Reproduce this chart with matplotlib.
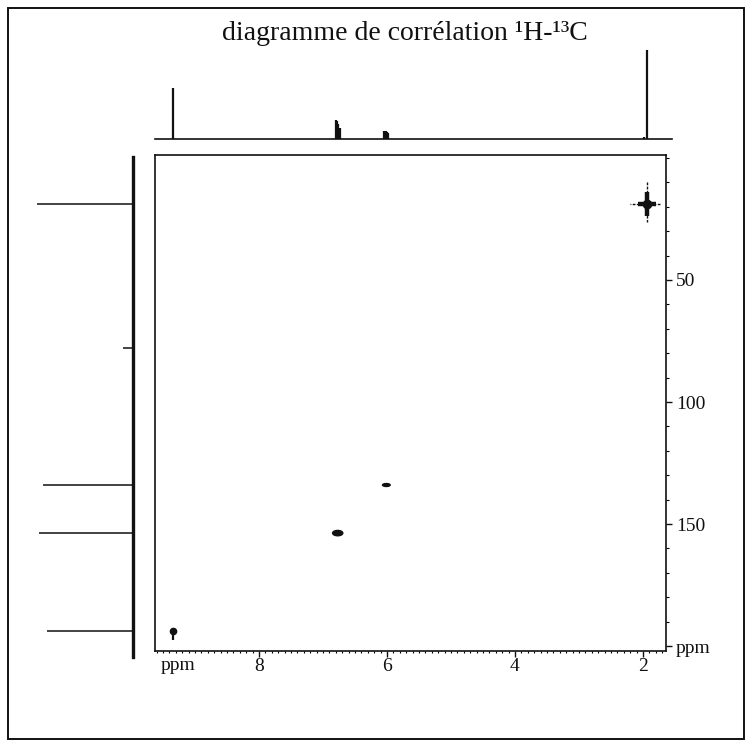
import numpy as np
import matplotlib.pyplot as plt
from matplotlib.patches import Ellipse, Rectangle
from matplotlib.ticker import FixedLocator, MultipleLocator

plt.rcParams['font.family'] = ['Liberation Serif', 'DejaVu Serif']

W, H = 752, 747
INK = '#111111'

# 1H projection: line positions (ppm) and heights
h1_ppm = [9.34, 6.80, 6.78, 6.76, 6.74, 6.04, 6.02, 6.00, 5.98, 1.99, 1.94]
h1_int = [51, 19, 18, 15, 11, 8, 8, 7, 6, 2, 89]

# 13C projection: line positions (ppm) and heights
c13_ppm = [18.8, 77.7, 134.0, 153.7, 194.0]
c13_int = [96, 10, 90, 94, 86]

# correlation peaks (1H ppm, 13C ppm)
cross_h = [9.34, 6.77, 6.01, 1.94]
cross_c = [194.0, 153.7, 134.0, 18.8]

x_ticks = [8, 6, 4, 2]
y_ticks = [50, 100, 150, 200]
y_labels = ['50', '100', '150', 'ppm']

h_lim = (9.625, 1.64)
c_lim = (202.0, -1.2)


def box(x0, y0, x1, y1):
    return [x0 / W, 1 - y1 / H, (x1 - x0) / W, (y1 - y0) / H]


fig = plt.figure(figsize=(W / 100, H / 100), dpi=100)
fig.patches.append(Rectangle((8 / W, 8 / H), (W - 16) / W, (H - 16) / H,
                             transform=fig.transFigure, fill=False,
                             lw=1.4, ec=INK))
fig.text(405 / W, 1 - 33 / H, 'diagramme de corrélation ¹H-¹³C',
         ha='center', va='center', fontsize=20, color=INK)

# 2D map
ax = fig.add_axes(box(155, 155, 666, 651))
ax.set_xlim(*h_lim)
ax.set_ylim(*c_lim)
for s in ax.spines.values():
    s.set_linewidth(1.2)
    s.set_color(INK)
ax.yaxis.tick_right()
ax.xaxis.set_major_locator(FixedLocator(x_ticks))
ax.set_xticklabels([str(t) for t in x_ticks])
ax.xaxis.set_minor_locator(MultipleLocator(0.1))
ax.yaxis.set_major_locator(FixedLocator(y_ticks))
ax.set_yticklabels(y_labels)
ax.yaxis.set_minor_locator(MultipleLocator(10))
ax.tick_params(axis='x', which='major', direction='out', length=4, width=1,
               pad=1, labelsize=14, colors=INK)
ax.tick_params(axis='x', which='minor', direction='out', length=1.5, width=0.8)
ax.tick_params(axis='y', which='major', direction='out', length=4, width=1,
               pad=3, labelsize=14, colors=INK)
ax.tick_params(axis='y', which='minor', direction='out', length=2.5, width=0.8)
ax.text(9.27, -0.013, 'ppm', transform=ax.get_xaxis_transform(),
        ha='center', va='top', fontsize=14, color=INK)

# CHO: dot with a short tail
ax.plot(cross_h[0], cross_c[0], 'o', ms=4.5, color=INK)
ax.vlines(cross_h[0], cross_c[0], cross_c[0] + 3.3, lw=1.6, color=INK)
# olefinic CH
ax.add_patch(Ellipse((cross_h[1], cross_c[1]), 0.16, 2.2, color=INK))
ax.add_patch(Ellipse((cross_h[2], cross_c[2]), 0.12, 1.2, color=INK))
# CH3: strong cross
h3, c3 = cross_h[3], cross_c[3]
ax.hlines(c3, h3 - 0.2, h3 + 0.27, lw=1.0, ls=(0, (2, 1)), color=INK)
ax.vlines(h3, c3 - 9, c3 + 7.5, lw=1.0, ls=(0, (2, 1)), color=INK)
ax.hlines(c3, h3 - 0.14, h3 + 0.14, lw=3.2, color=INK)
ax.vlines(h3, c3 - 5, c3 + 5, lw=3.2, color=INK)
ax.plot(h3, c3, 'o', ms=6, color=INK)

# 1H spectrum on top
ax_top = fig.add_axes(box(155, 40, 666, 145))
ax_top.set_xlim(*h_lim)
ax_top.set_ylim(-6, 99)
ax_top.axis('off')
ax_top.axhline(0, xmin=0, xmax=1.012, lw=1.2, color=INK, clip_on=False)
ax_top.vlines(h1_ppm, 0, h1_int, lw=1.6, color=INK)

# 13C spectrum on the left
ax_left = fig.add_axes(box(20, 155, 140, 651))
ax_left.set_ylim(*c_lim)
ax_left.set_xlim(113, -7)
ax_left.axis('off')
ax_left.axvline(0, ymin=-0.012, ymax=0.996, lw=2.4, color=INK, clip_on=False)
ax_left.hlines(c13_ppm, 0, c13_int, lw=1.1, color=INK)

fig.savefig('out.png', dpi=100)
